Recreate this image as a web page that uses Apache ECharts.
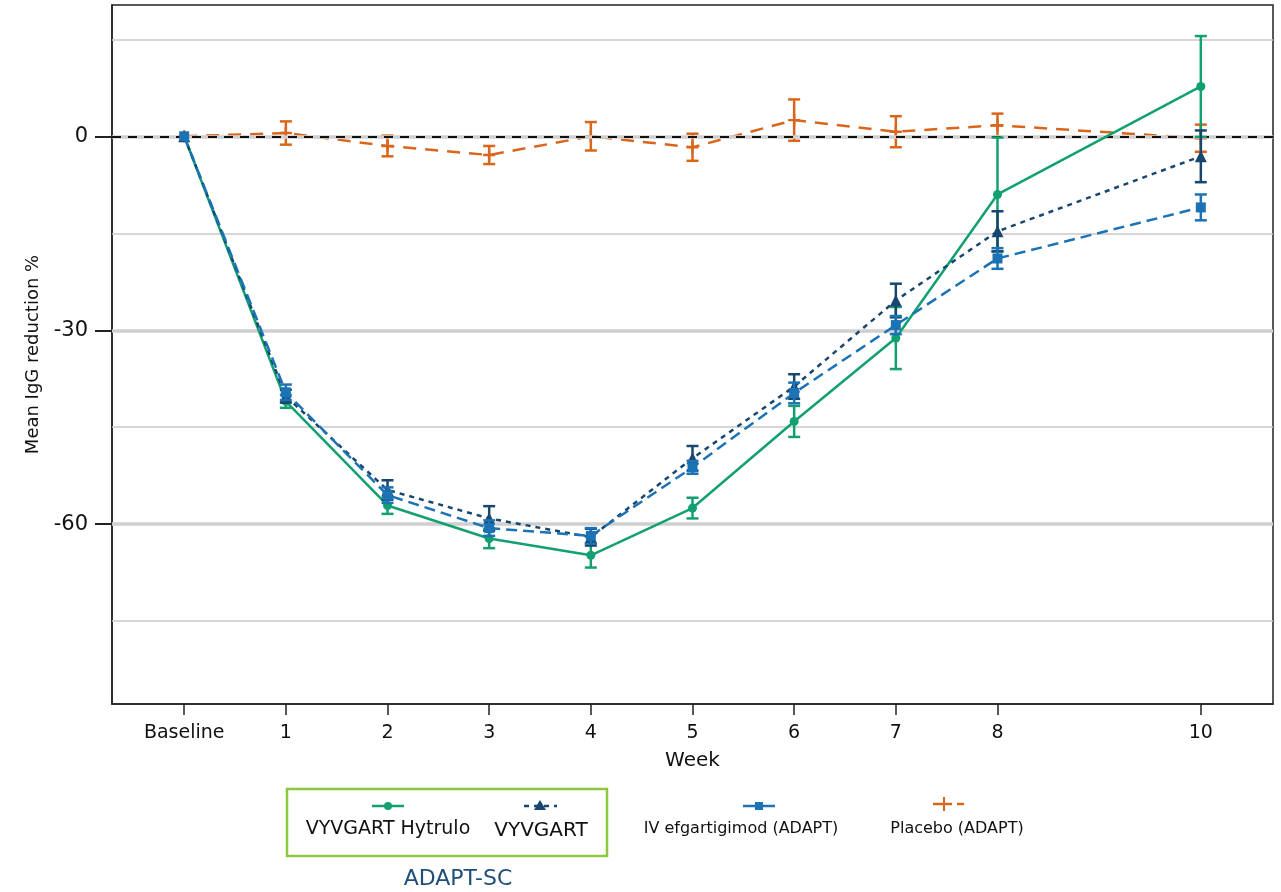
<!DOCTYPE html>
<html>
<head>
<meta charset="utf-8">
<script src="https://cdn.jsdelivr.net/npm/echarts@6/dist/echarts.min.js"></script>
<style>
html,body{margin:0;padding:0;background:#fff;}
#chart{width:1281px;height:892px;}
</style>
</head>
<body>
<div id="chart"></div>
<script>
// ---- Data ----
const weeks = [0, 1, 2, 3, 4, 5, 6, 7, 8, 10];
const xTickLabels = ['Baseline', '1', '2', '3', '4', '5', '6', '7', '8', '10'];
const yTickValues = [0, -30, -60];
const gridMajor = [0, -30, -60];
const gridMinor = [15, -15, -45, -75];

const hytruloMean = [0, -41.0, -57.1, -62.2, -64.8, -57.5, -44.1, -31.2, -9.0, 7.7];
const hytruloErr  = [0, 1.0, 1.3, 1.5, 1.9, 1.6, 2.4, 4.8, 8.8, 7.8];
const vyvgartMean = [0, -40.2, -54.7, -59.1, -62.0, -49.8, -38.7, -25.4, -14.7, -3.1];
const vyvgartErr  = [0, 1.0, 1.5, 1.9, 1.3, 1.9, 1.9, 2.6, 3.1, 4.0];
const ivMean      = [0, -39.6, -55.5, -60.6, -61.8, -51.2, -39.7, -29.2, -18.9, -11.0];
const ivErr       = [0, 1.2, 1.2, 1.2, 1.2, 1.0, 1.6, 1.4, 1.6, 2.0];
const placeboMean = [0, 0.5, -1.5, -2.9, 0.0, -1.7, 2.5, 0.7, 1.7, -0.3];
const placeboErr  = [0, 1.8, 1.6, 1.4, 2.2, 2.1, 3.2, 2.4, 1.8, 2.1];

// ---- Styles ----
const C_HYT = '#12a070';
const C_VYV = '#17476f';
const C_IV  = '#1b72b4';
const C_PLA = '#d9661b';
const FONT = '"DejaVu Sans", sans-serif';
const PLUS = 'path://M4,0h2v4h4v2h-4v4h-2v-4h-4v-2h4z';

function pts(mean){ return weeks.map((w,i)=>[w, mean[i]]); }
function errData(mean, err){ return weeks.map((w,i)=>[w, mean[i]-err[i], mean[i]+err[i]]); }

function errSeries(mean, err, color, z){
  return {
    type: 'custom',
    data: errData(mean, err),
    encode: {x: 0, y: [1, 2]},
    silent: true,
    z: z,
    renderItem: function(params, api){
      const x = api.value(0), lo = api.value(1), hi = api.value(2);
      if (lo === hi) return null;
      const a = api.coord([x, hi]), b = api.coord([x, lo]);
      const w = 6;
      const st = {stroke: color, lineWidth: 2.5};
      return {type: 'group', children: [
        {type:'line', shape:{x1:a[0], y1:a[1], x2:b[0], y2:b[1]}, style: st},
        {type:'line', shape:{x1:a[0]-w, y1:a[1], x2:a[0]+w, y2:a[1]}, style: st},
        {type:'line', shape:{x1:b[0]-w, y1:b[1], x2:b[0]+w, y2:b[1]}, style: st}
      ]};
    }
  };
}

function lineSeries(name, mean, color, symbol, size, dash, z){
  return {
    name: name, type: 'line', data: pts(mean), symbol: symbol, symbolSize: size,
    showAllSymbol: true, z: z,
    itemStyle: {color: color},
    lineStyle: {color: color, width: 2.5, type: dash},
    emphasis: {disabled: true}
  };
}

const chart = echarts.init(document.getElementById('chart'));

const option = {
  animation: false,
  backgroundColor: '#fff',
  grid: {left: 112, right: 8, top: 5, bottom: 188, show: true, borderColor: '#222', borderWidth: 1.5, backgroundColor: 'transparent'},
  xAxis: {
    type: 'value', min: -0.71, max: 10.71,
    name: 'Week', nameLocation: 'middle', nameGap: 47,
    nameTextStyle: {fontFamily: FONT, fontSize: 20, color: '#111'},
    axisLine: {show: true, onZero: false, lineStyle: {color: '#222', width: 1.5}},
    axisTick: {show: true, length: 11, lineStyle: {color: '#222', width: 1.5}, customValues: weeks},
    axisLabel: {fontFamily: FONT, fontSize: 19, color: '#111', margin: 20, customValues: weeks,
      formatter: function(v){ const i = weeks.indexOf(v); return i >= 0 ? xTickLabels[i] : ''; }},
    splitLine: {show: false}
  },
  yAxis: {
    type: 'value', min: -87.8, max: 20.3,
    name: 'Mean IgG reduction %', nameLocation: 'middle', nameGap: 70, nameRotate: 90,
    nameTextStyle: {fontFamily: FONT, fontSize: 18, color: '#111'},
    axisLine: {show: true, onZero: false, lineStyle: {color: '#222', width: 1.5}},
    axisTick: {show: true, length: 17, lineStyle: {color: '#222', width: 2}, customValues: yTickValues},
    axisLabel: {fontFamily: FONT, fontSize: 21, color: '#111', margin: 24, customValues: yTickValues},
    splitLine: {show: false}
  },
  series: [
    {
      type: 'line', data: [], silent: true, z: 1,
      markLine: {
        silent: true, symbol: 'none', label: {show: false}, animation: false,
        data: gridMinor.map(v => ({yAxis: v, lineStyle: {color: '#c8c8c8', width: 1.5, type: 'solid'}}))
          .concat(gridMajor.map(v => ({yAxis: v, lineStyle: {color: '#cfcfcf', width: 3.5, type: 'solid'}})))
          .concat([{yAxis: 0, lineStyle: {color: '#111', width: 2.2, type: [9, 7]}}])
      }
    },
    lineSeries('Placebo (ADAPT)', placeboMean, C_PLA, PLUS, 12, [13, 9], 4),
    errSeries(placeboMean, placeboErr, C_PLA, 4),
    lineSeries('VYVGART Hytrulo', hytruloMean, C_HYT, 'circle', 9, 'solid', 5),
    errSeries(hytruloMean, hytruloErr, C_HYT, 5),
    lineSeries('VYVGART', vyvgartMean, C_VYV, 'triangle', 12, [5, 5], 6),
    errSeries(vyvgartMean, vyvgartErr, C_VYV, 6),
    lineSeries('IV efgartigimod (ADAPT)', ivMean, C_IV, 'rect', 10, [11, 6], 7),
    errSeries(ivMean, ivErr, C_IV, 7)
  ],
  graphic: [
    {type: 'rect', shape: {x: 287, y: 789, width: 320, height: 67}, style: {fill: 'none', stroke: '#8dc63f', lineWidth: 2.5}},
    // item 1
    {type: 'line', shape: {x1: 372, y1: 806, x2: 404, y2: 806}, style: {stroke: C_HYT, lineWidth: 2.5}},
    {type: 'circle', shape: {cx: 388, cy: 806, r: 4}, style: {fill: C_HYT}},
    {type: 'text', x: 388, y: 829, style: {text: 'VYVGART Hytrulo', fontFamily: FONT, fontSize: 19, fill: '#111', align: 'center', verticalAlign: 'middle'}},
    // item 2
    {type: 'line', shape: {x1: 524, y1: 806, x2: 557, y2: 806}, style: {stroke: C_VYV, lineWidth: 2.5, lineDash: [5, 5]}},
    {type: 'polygon', shape: {points: [[540, 800], [546, 810], [534, 810]]}, style: {fill: C_VYV}},
    {type: 'text', x: 541, y: 831, style: {text: 'VYVGART', fontFamily: FONT, fontSize: 20, fill: '#111', align: 'center', verticalAlign: 'middle'}},
    // item 3
    {type: 'line', shape: {x1: 743, y1: 806, x2: 775, y2: 806}, style: {stroke: C_IV, lineWidth: 2.5}},
    {type: 'rect', shape: {x: 755, y: 802, width: 8, height: 8}, style: {fill: C_IV}},
    {type: 'text', x: 741, y: 829, style: {text: 'IV efgartigimod (ADAPT)', fontFamily: FONT, fontSize: 16, fill: '#111', align: 'center', verticalAlign: 'middle'}},
    // item 4
    {type: 'line', shape: {x1: 933, y1: 804, x2: 952, y2: 804}, style: {stroke: C_PLA, lineWidth: 2.5}},
    {type: 'line', shape: {x1: 957, y1: 804, x2: 964, y2: 804}, style: {stroke: C_PLA, lineWidth: 2.5}},
    {type: 'line', shape: {x1: 944, y1: 797, x2: 944, y2: 811}, style: {stroke: C_PLA, lineWidth: 2}},
    {type: 'text', x: 957, y: 829, style: {text: 'Placebo (ADAPT)', fontFamily: FONT, fontSize: 16, fill: '#111', align: 'center', verticalAlign: 'middle'}},
    // group caption
    {type: 'text', x: 458, y: 879, style: {text: 'ADAPT-SC', fontFamily: FONT, fontSize: 22, fill: '#1f4e79', align: 'center', verticalAlign: 'middle'}}
  ]
};
chart.setOption(option);
</script>
</body>
</html>
